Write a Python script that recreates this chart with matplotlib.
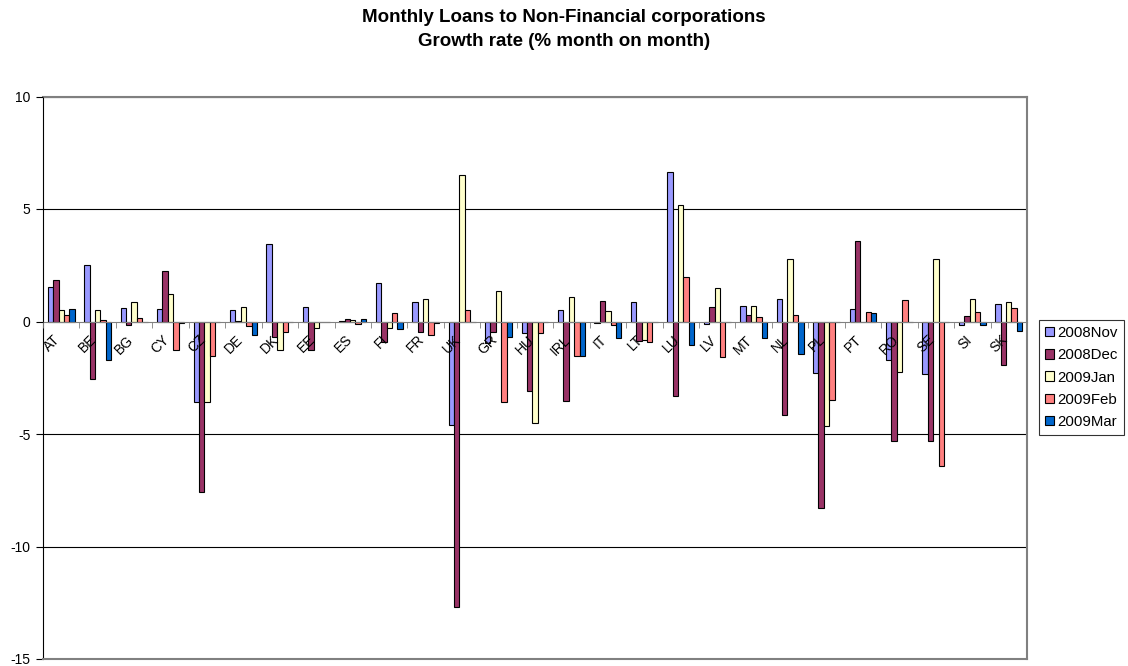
import numpy as np
import matplotlib.pyplot as plt
from matplotlib.transforms import ScaledTranslation

plt.rcParams['font.family'] = ['Liberation Sans', 'DejaVu Sans']
plt.rcParams['axes.unicode_minus'] = False

## Data

countries = ['AT', 'BE', 'BG', 'CY', 'CZ', 'DE', 'DK', 'EE', 'ES', 'FI', 'FR', 'UK', 'GR', 'HU',
             'IRL', 'IT', 'LT', 'LU', 'LV', 'MT', 'NL', 'PL', 'PT', 'RO', 'SE', 'SI', 'SK']

nov08 = [1.55, 2.52, 0.6, 0.54, -3.56, 0.52, 3.43, 0.63, 0.04, 1.73, 0.88, -4.58, -0.96, -0.5,
         0.49, -0.05, 0.85, 6.63, -0.1, 0.67, 0.98, -2.3, 0.57, -1.7, -2.32, -0.16, 0.8]
dec08 = [1.86, -2.57, -0.16, 2.23, -7.56, 0.03, -0.71, -1.28, 0.12, -0.91, -0.48, -12.68, -0.45, -3.07,
         -3.52, 0.89, -0.85, -3.3, 0.63, 0.31, -4.14, -8.27, 3.56, -5.3, -5.3, 0.25, -1.93]
jan09 = [0.5, 0.5, 0.86, 1.22, -3.56, 0.63, -1.25, -0.27, 0.07, -0.28, 1.0, 6.5, 1.34, -4.5,
         1.09, 0.45, -0.82, 5.2, 1.47, 0.67, 2.77, -4.63, 0.0, -2.23, 2.77, 1.01, 0.88]
feb09 = [0.27, 0.07, 0.16, -1.25, -1.55, -0.22, -0.48, 0.0, -0.1, 0.36, -0.61, 0.5, -3.56, -0.5,
         -1.53, -0.15, -0.92, 1.96, -1.59, 0.22, 0.28, -3.47, 0.42, 0.94, -6.4, 0.42, 0.6]
mar09 = [0.55, -1.71, 0.0, -0.07, 0.0, -0.61, 0.0, 0.0, 0.1, -0.33, -0.07, 0.0, -0.71, 0.0,
         -1.52, -0.74, 0.0, -1.06, 0.0, -0.74, -1.46, 0.0, 0.39, 0.0, 0.0, -0.16, -0.4]

series = [nov08, dec08, jan09, feb09, mar09]
names = ['2008Nov', '2008Dec', '2009Jan', '2009Feb', '2009Mar']
colors = ['#9999FF', '#993366', '#FFFFCC', '#FF8080', '#0066CC']

## Figure

fig = plt.figure(figsize=(11.28, 6.66), dpi=100)
ax = fig.add_axes([43/1128, 1 - 659/666, (1027 - 43)/1128, (659 - 96.5)/666])
ax.set_axisbelow(False)   # axis + labels drawn over the bars

x = np.arange(len(countries))
w = 0.148
for j, (vals, name, col) in enumerate(zip(series, names, colors)):
    ax.bar(x + (j - 2) * w, vals, w, color=col, edgecolor='black', linewidth=0.8,
           label=name, zorder=2)

ax.set_xlim(-0.5, len(countries) - 0.5)
ax.set_ylim(-15, 10)
ax.set_yticks([-15, -10, -5, 0, 5, 10])
# gridlines behind the bars
for yv in [-10, -5, 5, 10]:
    ax.axhline(yv, color='black', linewidth=0.8, zorder=1)
ax.tick_params(axis='y', direction='out', length=5, width=0.8, labelsize=10, pad=4)

# category axis sits on zero
ax.spines['bottom'].set_position(('data', 0))
ax.spines['bottom'].set_color('#808080')
ax.spines['left'].set_color('black')
ax.spines['left'].set_linewidth(0.8)
for s in ['top', 'right']:
    ax.spines[s].set_color('#808080')
    ax.spines[s].set_linewidth(1.5)
ax.axhline(-15, color='#808080', linewidth=1.5, zorder=5, clip_on=False)

ax.set_xticks(x)
ax.set_xticklabels(countries, fontsize=10)
ax.set_xticks(np.arange(-0.5, len(countries)), minor=True)
ax.tick_params(axis='x', which='major', length=0, pad=8)
ax.tick_params(axis='x', which='minor', direction='out', length=4, color='#808080')
shift = ScaledTranslation(-0.08, 0, fig.dpi_scale_trans)
for lab in ax.get_xticklabels():
    lab.set_rotation(45)
    lab.set_ha('right')
    lab.set_rotation_mode('anchor')
    lab.set_transform(lab.get_transform() + shift)

# title, two lines
fig.text(0.5, 1 - 17/666, 'Monthly Loans to Non-Financial corporations',
         ha='center', va='center', fontsize=13.5, fontweight='bold')
fig.text(0.5, 1 - 42/666, 'Growth rate (% month on month)',
         ha='center', va='center', fontsize=13.5, fontweight='bold')

leg = ax.legend(loc='upper left', bbox_to_anchor=(1039/1128, 1 - 320/666),
                bbox_transform=fig.transFigure, fontsize=10.8, frameon=True, fancybox=False,
                handlelength=0.6, handleheight=0.6, handletextpad=0.25, labelspacing=0.55,
                borderpad=0.4, borderaxespad=0)
leg.get_frame().set_edgecolor('black')
leg.get_frame().set_linewidth(0.8)
leg.set_zorder(6)

fig.savefig('out.png', dpi=100)
